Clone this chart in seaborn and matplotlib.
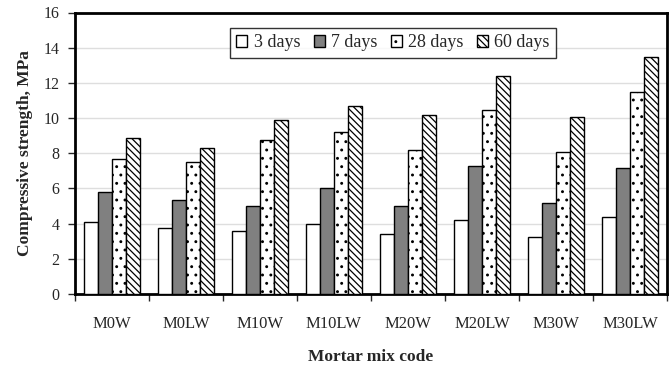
import matplotlib
matplotlib.use("Agg")
import matplotlib.pyplot as plt
import seaborn as sns
import pandas as pd
import numpy as np

mixes = ["M0W", "M0LW", "M10W", "M10LW", "M20W", "M20LW", "M30W", "M30LW"]
ages = ["3 days", "7 days", "28 days", "60 days"]
days3 = [4.07, 3.73, 3.58, 3.98, 3.39, 4.22, 3.22, 4.39]
days7 = [5.78, 5.34, 5.00, 6.00, 4.98, 7.25, 5.15, 7.16]
days28 = [7.69, 7.50, 8.77, 9.19, 8.16, 10.44, 8.07, 11.46]
days60 = [8.86, 8.28, 9.87, 10.70, 10.17, 12.37, 10.08, 13.47]

rows = []
for age, vals in zip(ages, [days3, days7, days28, days60]):
    for m, v in zip(mixes, vals):
        rows.append({"mix": m, "age": age, "strength": v})
df = pd.DataFrame(rows)

sns.set_style("white")
plt.rcParams["font.family"] = ["Liberation Serif", "DejaVu Serif"]
plt.rcParams["hatch.linewidth"] = 0.9
plt.rcParams["hatch.color"] = "#333333"

fig = plt.figure(figsize=(6.72, 3.69), dpi=100)
ax = fig.add_axes([75 / 672, 1 - 294 / 369, 592 / 672, 281.5 / 369])

fills = ["white", "#808080", "white", "white"]
hatches = [None, None, "..", "\\\\\\\\\\"]
sns.barplot(data=df, x="mix", y="strength", hue="age", order=mixes,
            hue_order=ages, palette=fills, edgecolor="black", linewidth=1.0,
            width=0.75, gap=0, saturation=1, ax=ax, legend=False, zorder=3)

for cont, h in zip(ax.containers, hatches):
    for p in cont.patches:
        if h:
            p.set_hatch(h)
        p.set_edgecolor("black")

ax.set_ylim(0, 16)
ax.set_xlim(-0.5, len(mixes) - 0.5)
ax.set_yticks(np.arange(0, 17, 2))
ax.yaxis.grid(True, color="#dedede", linewidth=1.0, zorder=0)
ax.set_axisbelow(True)

ax.set_xticks(range(len(mixes)))
ax.set_xticklabels(mixes)
ax.set_xticks(np.arange(-0.5, len(mixes), 1.0), minor=True)
ax.tick_params(axis="x", which="major", length=0, pad=16, labelsize=12)
ax.tick_params(axis="x", which="minor", length=5, width=1, direction="out", bottom=True)
ax.tick_params(axis="y", length=5, width=1, direction="out", left=True, labelsize=11.5, pad=6)

for s in ax.spines.values():
    s.set_visible(True)
    s.set_color("black")
    s.set_linewidth(2.0)

ax.set_xlabel("Mortar mix code", fontsize=12.5, fontweight="bold", labelpad=12)
ax.set_ylabel("Compressive strength, MPa", fontsize=12.5, fontweight="bold", labelpad=8)

leg = ax.legend(ax.containers, ages, loc="upper center", bbox_to_anchor=(0.537, 0.945),
                ncol=4, frameon=True, fancybox=False, edgecolor="black",
                fontsize=13, handlelength=0.6, handleheight=0.6,
                handletextpad=0.35, columnspacing=0.75, borderpad=0.35,
                borderaxespad=0)
leg.get_frame().set_linewidth(1.0)

fig.savefig("out.png", dpi=100)
